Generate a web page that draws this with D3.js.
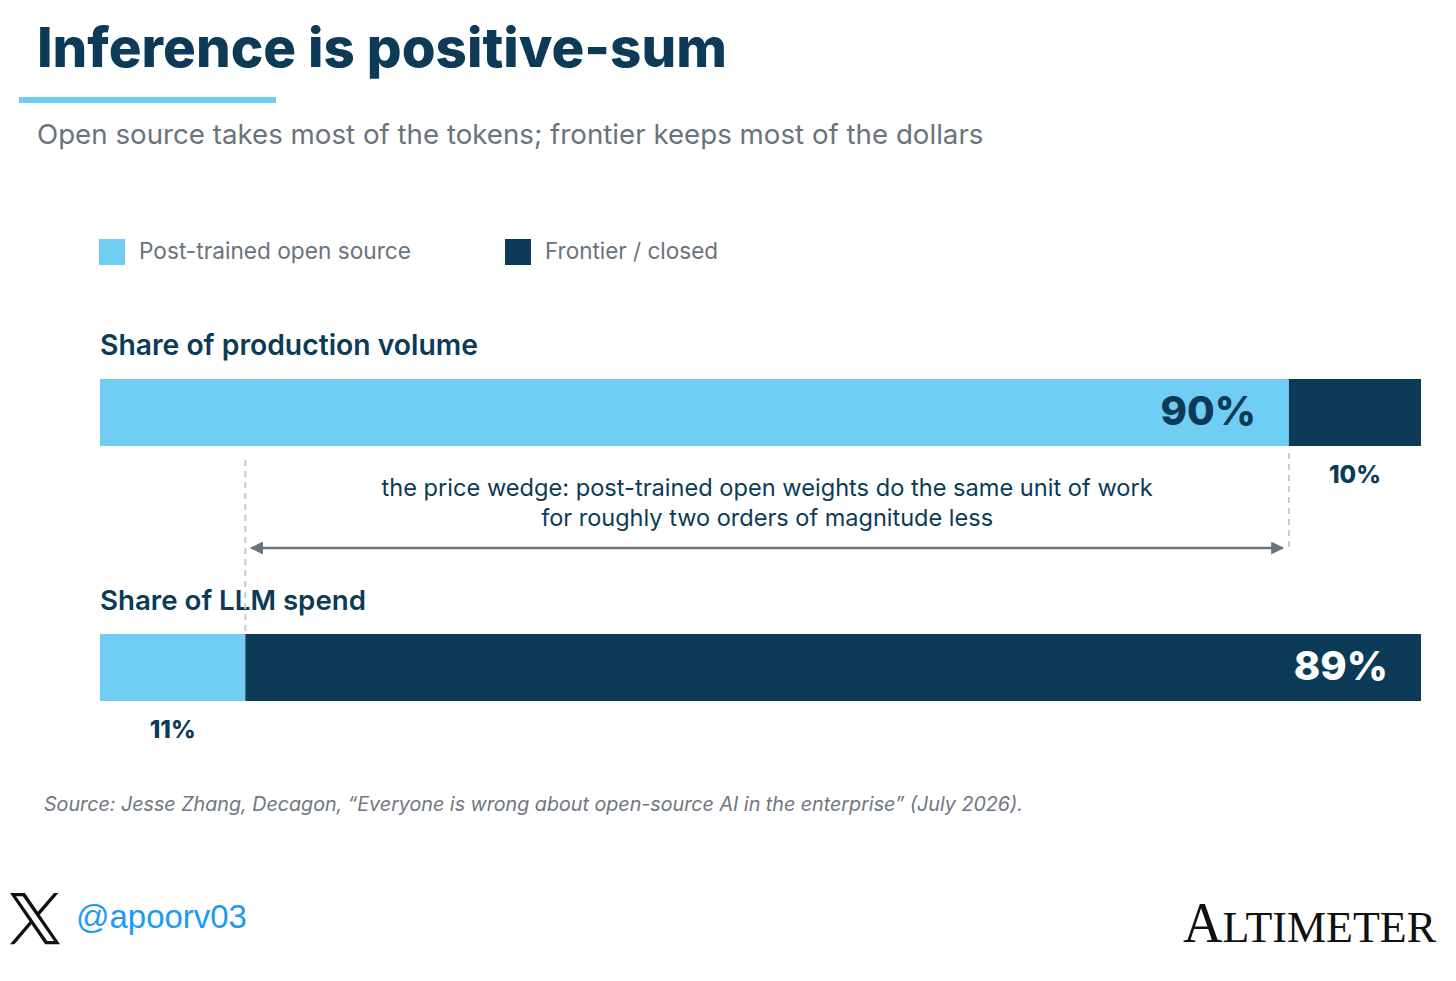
<!DOCTYPE html>
<html>
<head>
<meta charset="utf-8">
<script src="https://cdn.jsdelivr.net/npm/d3@7"></script>
<style>
  html, body { margin: 0; padding: 0; background: #fff; }
  svg { display: block; }
</style>
</head>
<body>
<script>
// chart values
const groups = ['Share of production volume', 'Share of LLM spend'];
const openSource = [90, 11];
const frontier = [10, 89];
const seriesNames = ['Post-trained open source', 'Frontier / closed'];

const titleText = 'Inference is positive-sum';
const subtitleText = 'Open source takes most of the tokens; frontier keeps most of the dollars';
const wedgeLines = ['the price wedge: post-trained open weights do the same unit of work',
  'for roughly two orders of magnitude less'];
const sourceText = 'Source: Jesse Zhang, Decagon, \u201cEveryone is wrong about open-source AI in the enterprise\u201d (July 2026).';

const W = 1456, H = 981;
const LIGHT = '#70cdf4', NAVY = '#0c3b57', GREY = '#6b737c';
const FONT = 'Inter, "Open Sans", sans-serif';

const svg = d3.select('body').append('svg')
  .attr('width', W)
  .attr('height', H)
  .style('font-family', FONT);

// squeeze / stretch a text element to a target width by font-size
const fit = (sel, w) => {
  const fs = parseFloat(sel.attr('font-size'));
  const len = sel.node().getComputedTextLength();
  sel.attr('font-size', (fs * w / len).toFixed(2));
  return sel;
};

// header
fit(svg.append('text')
  .attr('x', 37).attr('y', 67)
  .attr('font-size', 52).attr('font-weight', 800)
  .attr('fill', '#0d3a57')
  .text(titleText), 690);

svg.append('rect')
  .attr('x', 19).attr('y', 97)
  .attr('width', 257).attr('height', 6)
  .attr('fill', LIGHT);

fit(svg.append('text')
  .attr('x', 37).attr('y', 144)
  .attr('font-size', 26)
  .attr('fill', GREY)
  .text(subtitleText), 947);

// legend
const legendX = [99, 505];
const legend = svg.append('g').selectAll('g')
  .data(seriesNames)
  .join('g')
  .attr('transform', (d, i) => `translate(${legendX[i]}, 239)`);
legend.append('rect')
  .attr('width', 26).attr('height', 26)
  .attr('fill', (d, i) => i === 0 ? LIGHT : NAVY);
legend.append('text')
  .attr('x', 40).attr('y', 20)
  .attr('font-size', 21)
  .attr('fill', GREY)
  .text(d => d)
  .each(function (d, i) { fit(d3.select(this), i === 0 ? 272 : 173); });

// scales
const x = d3.scaleLinear().domain([0, 100]).range([100, 1421]);
const y = d3.scalePoint().domain(groups).range([379, 634]);
const barH = 67;

const rows = groups.map((g, i) => ({ name: g, open: openSource[i], closed: frontier[i] }));

const row = svg.append('g').selectAll('g')
  .data(rows)
  .join('g')
  .attr('transform', d => `translate(0, ${y(d.name)})`);

row.append('text')
  .attr('x', 100).attr('y', -24)
  .attr('font-size', 26).attr('font-weight', 600)
  .attr('fill', NAVY)
  .text(d => d.name)
  .each(function (d, i) { fit(d3.select(this), i === 0 ? 378 : 266); });

row.append('rect')
  .attr('x', x(0)).attr('y', 0)
  .attr('width', d => x(d.open) - x(0)).attr('height', barH)
  .attr('fill', LIGHT);

row.append('rect')
  .attr('x', d => x(d.open)).attr('y', 0)
  .attr('width', d => x(100) - x(d.open)).attr('height', barH)
  .attr('fill', NAVY);

// the bigger share is labelled inside its segment, the smaller one below
row.each(function (d) {
  const g = d3.select(this);
  const openBig = d.open >= d.closed;
  const inside = openBig
    ? { x: x(d.open) - 33, fill: NAVY, v: d.open }
    : { x: x(100) - 33, fill: '#fff', v: d.closed };
  const below = openBig
    ? { x: (x(d.open) + x(100)) / 2, v: d.closed }
    : { x: (x(0) + x(d.open)) / 2, v: d.open };
  g.append('text')
    .attr('x', inside.x).attr('y', 46)
    .attr('text-anchor', 'end')
    .attr('font-size', 40).attr('font-weight', 800)
    .attr('fill', inside.fill)
    .text(inside.v + '%');
  g.append('text')
    .attr('x', below.x).attr('y', 104)
    .attr('text-anchor', 'middle')
    .attr('font-size', 24).attr('font-weight', 800)
    .attr('fill', NAVY)
    .text(below.v + '%');
});

// price wedge annotation
const xa = x(openSource[1]), xb = x(openSource[0]);
svg.append('line')
  .attr('x1', xa).attr('x2', xa).attr('y1', 460).attr('y2', 632)
  .attr('stroke', '#c9c9c9').attr('stroke-width', 2).attr('stroke-dasharray', '6,5');
svg.append('line')
  .attr('x1', xb).attr('x2', xb).attr('y1', 453).attr('y2', 551)
  .attr('stroke', '#c9c9c9').attr('stroke-width', 2).attr('stroke-dasharray', '6,5');

const defs = svg.append('defs');
defs.append('marker')
  .attr('id', 'head')
  .attr('viewBox', '0 0 10 10')
  .attr('refX', 9).attr('refY', 5)
  .attr('markerWidth', 5).attr('markerHeight', 5)
  .attr('markerUnits', 'strokeWidth')
  .attr('orient', 'auto-start-reverse')
  .append('path')
  .attr('d', 'M0,0 L10,5 L0,10 z')
  .attr('fill', GREY);

svg.append('line')
  .attr('x1', xa + 6).attr('x2', xb - 6)
  .attr('y1', 548).attr('y2', 548)
  .attr('stroke', GREY).attr('stroke-width', 2.6)
  .attr('marker-start', 'url(#head)')
  .attr('marker-end', 'url(#head)');

svg.append('g').selectAll('text')
  .data(wedgeLines)
  .join('text')
  .attr('x', (xa + xb) / 2)
  .attr('y', (d, i) => 496 + i * 30)
  .attr('text-anchor', 'middle')
  .attr('font-size', 22)
  .attr('fill', NAVY)
  .text(d => d)
  .each(function (d, i) { fit(d3.select(this), i === 0 ? 771 : 452); });

// source
fit(svg.append('text')
  .attr('x', 44).attr('y', 811)
  .attr('font-size', 19).attr('font-style', 'italic')
  .attr('fill', '#70777f')
  .text(sourceText), 980);

// footer: X handle and wordmark
svg.append('path')
  .attr('transform', 'translate(10, 893) scale(0.0417)')
  .attr('d', 'M714.163 519.284L1160.89 0H1055.03L667.137 450.887L357.328 0H0L468.492 681.821L0 1226.37H105.866L515.491 750.218L842.672 1226.37H1200L714.163 519.284ZM569.165 687.828L521.697 619.934L144.011 79.6944H306.615L611.412 515.685L658.88 583.579L1055.08 1150.3H892.476L569.165 687.828Z')
  .attr('fill', '#111');

fit(svg.append('text')
  .attr('x', 76).attr('y', 928)
  .attr('font-family', '"Liberation Sans", Arial, sans-serif')
  .attr('font-size', 34)
  .attr('fill', '#1d9bf0')
  .text('@apoorv03'), 171);

const brand = svg.append('text')
  .attr('x', 1183).attr('y', 942)
  .attr('font-family', '"Liberation Serif", "DejaVu Serif", serif')
  .attr('fill', '#111')
  .attr('textLength', 253)
  .attr('lengthAdjust', 'spacingAndGlyphs');
brand.append('tspan').attr('font-size', 56).text('A');
brand.append('tspan').attr('font-size', 45).text('LTIMETER');
</script>
</body>
</html>
